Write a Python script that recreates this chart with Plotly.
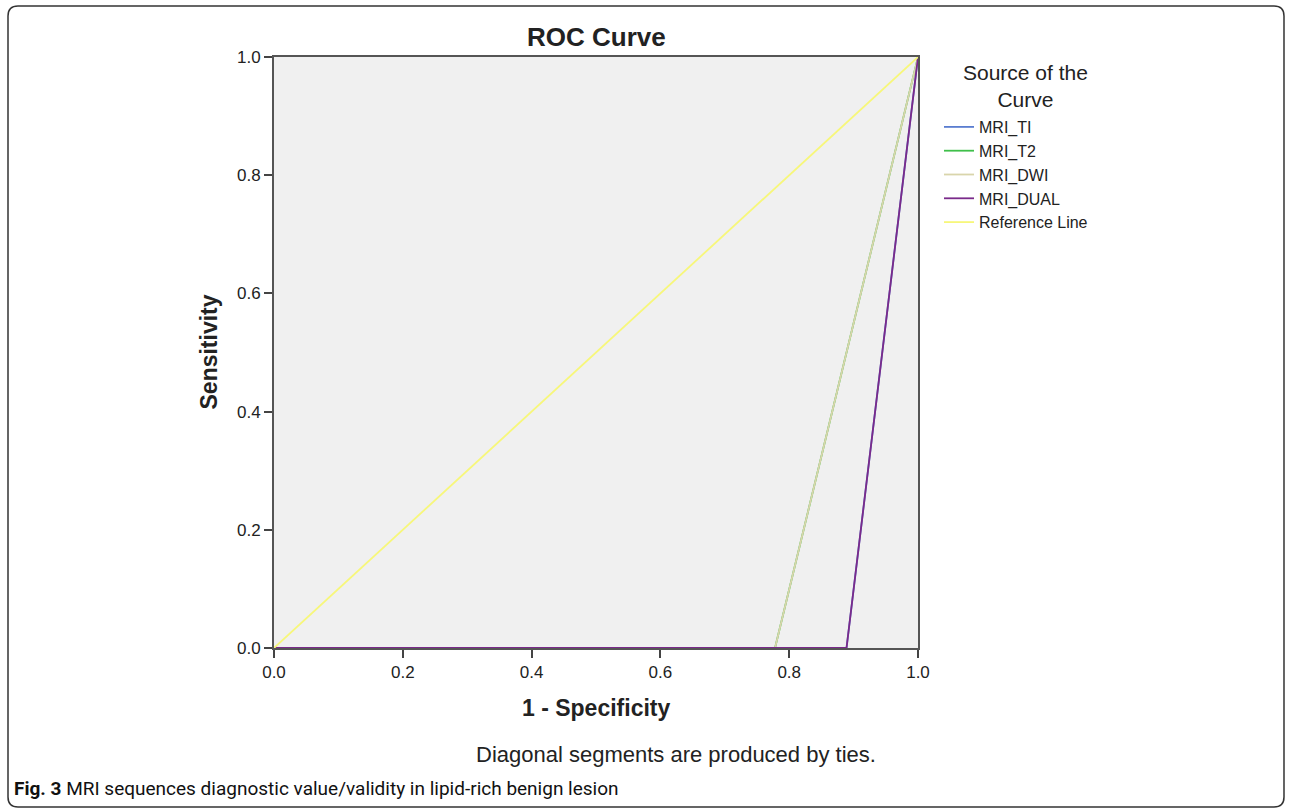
import plotly.graph_objects as go

# ROC data (1 - specificity, sensitivity)
t1_fpr = [0.0, 0.889, 1.0]
t1_tpr = [0.0, 0.0, 1.0]
t2_fpr = [0.0, 0.778, 1.0]
t2_tpr = [0.0, 0.0, 1.0]
dwi_fpr = [0.0, 0.778, 1.0]
dwi_tpr = [0.0, 0.0, 1.0]
dual_fpr = [0.0, 0.889, 1.0]
dual_tpr = [0.0, 0.0, 1.0]
ref_x = [0.0, 1.0]
ref_y = [0.0, 1.0]

names = ["MRI_TI", "MRI_T2", "MRI_DWI", "MRI_DUAL", "Reference Line"]
colors = ["#5a7dd0", "#3fbf4a", "#d9d5ab", "#7a2a8a", "#f7f77a"]
tick_vals = [0.0, 0.2, 0.4, 0.6, 0.8, 1.0]
tick_text = ["0.0", "0.2", "0.4", "0.6", "0.8", "1.0"]

W, H = 1292, 812
L, R, T, B = 274, 374, 57, 164
pw, ph = W - L - R, H - T - B
FONT = "Liberation Sans, Arial, sans-serif"

def px(x):
    return (x - L) / pw

def py(y):
    return (H - B - y) / ph

fig = go.Figure()
series = [(t1_fpr, t1_tpr), (t2_fpr, t2_tpr), (dwi_fpr, dwi_tpr), (dual_fpr, dual_tpr), (ref_x, ref_y)]
for (xs, ys), n, c in zip(series, names, colors):
    fig.add_trace(go.Scatter(x=xs, y=ys, mode="lines", name=n,
                             line=dict(color=c, width=1.8)))

axis_common = dict(range=[0, 1], tickvals=tick_vals, ticktext=tick_text,
                   showgrid=False, zeroline=False, showline=True, linecolor="#555555",
                   linewidth=2, mirror=True, ticks="outside", ticklen=8, tickwidth=2,
                   tickcolor="#444444", tickfont=dict(size=17, color="#222222"))

fig.update_layout(
    width=W, height=H,
    margin=dict(l=L, r=R, t=T, b=B),
    paper_bgcolor="white", plot_bgcolor="#f0f0f0",
    font=dict(family=FONT, color="#222222"),
    xaxis=axis_common,
    yaxis=axis_common,
    showlegend=True,
    legend=dict(x=px(939), y=py(110), xanchor="left", yanchor="top",
                bgcolor="rgba(0,0,0,0)", font=dict(size=16),
                tracegroupgap=0, itemwidth=30),
)

fig.add_annotation(text="Source of the<br>Curve", xref="paper", yref="paper",
                   x=px(1025), y=py(86), showarrow=False, font=dict(size=21),
                   xanchor="center", yanchor="middle", align="center")
fig.add_annotation(text="<b>ROC Curve</b>", xref="paper", yref="paper", x=0.5, y=py(37),
                   showarrow=False, font=dict(size=26), xanchor="center", yanchor="middle")
fig.add_annotation(text="<b>1 - Specificity</b>", xref="paper", yref="paper", x=0.5, y=py(708),
                   showarrow=False, font=dict(size=23), xanchor="center", yanchor="middle")
fig.add_annotation(text="<b>Sensitivity</b>", xref="paper", yref="paper", x=px(208), y=0.5,
                   showarrow=False, font=dict(size=23), textangle=-90,
                   xanchor="center", yanchor="middle")
fig.add_annotation(text="Diagonal segments are produced by ties.", xref="paper", yref="paper",
                   x=px(676), y=py(754), showarrow=False, font=dict(size=22),
                   xanchor="center", yanchor="middle")
fig.add_annotation(text="<b>Fig. 3</b> MRI sequences diagnostic value/validity in lipid-rich benign lesion",
                   xref="paper", yref="paper", x=px(12), y=py(788), showarrow=False,
                   font=dict(size=19, family="Roboto, Liberation Sans, sans-serif", color="#111111"),
                   xanchor="left", yanchor="middle")

# rounded frame
x0, x1, y0, y1, r = 8, 1284, 6, 807, 10
def P(x, y):
    return f"{px(x):.5f},{py(y):.5f}"
path = (f"M {P(x0 + r, y0)} L {P(x1 - r, y0)} Q {P(x1, y0)} {P(x1, y0 + r)} "
        f"L {P(x1, y1 - r)} Q {P(x1, y1)} {P(x1 - r, y1)} "
        f"L {P(x0 + r, y1)} Q {P(x0, y1)} {P(x0, y1 - r)} "
        f"L {P(x0, y0 + r)} Q {P(x0, y0)} {P(x0 + r, y0)} Z")
fig.add_shape(type="path", path=path, xref="paper", yref="paper",
              line=dict(color="#333333", width=1.5), layer="below")

fig.write_html("out.html", config={"displayModeBar": False},
               post_script="document.body.style.margin='0px';document.body.style.overflow='hidden';")
